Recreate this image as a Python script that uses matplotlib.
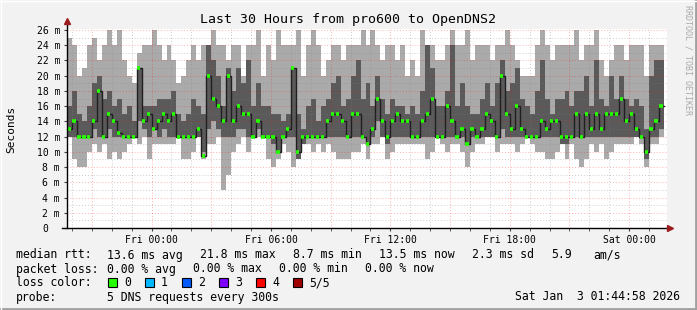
import numpy as np
import matplotlib
matplotlib.use("Agg")
import matplotlib.pyplot as plt
from matplotlib.transforms import ScaledTranslation

# 15-minute bins, Thu 19:45 .. Sat 01:45 (hours relative to Fri 00:00)
hours = np.arange(120) * 0.25 - 4.25

# smoke: outer band (min..max ping) and inner band, median rtt, all in ms
smoke_hi = [25, 24, 20, 21, 24, 25, 22, 24, 26, 24, 26, 22, 20, 19, 23, 24, 24, 26, 24, 22,
            24, 22, 19, 20, 22, 24, 22, 24, 24, 26, 24, 24, 22, 24, 24, 20, 24, 24, 26, 20,
            24, 22, 26, 24, 24, 24, 26, 20, 24, 26, 24, 20, 22, 24, 24, 22, 24, 24, 24, 26,
            24, 26, 24, 22, 24, 24, 22, 24, 20, 22, 20, 26, 24, 24, 22, 22, 24, 26, 24, 24,
            26, 22, 24, 24, 24, 22, 24, 24, 26, 24, 22, 20, 20, 20, 24, 26, 24, 22, 24, 24,
            24, 24, 26, 22, 24, 24, 26, 22, 20, 22, 24, 24, 22, 24, 24, 24, 20, 24, 24, 24]
smoke_lo = [12, 9, 8, 8, 10, 11, 10, 11, 9, 10, 9, 10, 11, 12, 11, 12, 9, 11, 11, 11,
            11, 11, 12, 9, 9, 10, 12, 9, 11, 11, 12, 5, 7, 10, 11, 12, 10, 12, 12, 12,
            9, 8, 9, 11, 10, 8, 9, 11, 11, 10, 11, 10, 11, 10, 9, 9, 9, 10, 10, 11,
            9, 11, 11, 12, 9, 10, 11, 11, 11, 11, 11, 11, 9, 10, 12, 11, 10, 11, 11, 10,
            8, 10, 11, 11, 12, 12, 10, 11, 11, 11, 10, 11, 12, 11, 10, 10, 9, 9, 10, 11,
            9, 11, 9, 8, 9, 11, 10, 11, 9, 10, 11, 11, 11, 11, 12, 11, 8, 11, 11, 12]
inner_hi = [16, 18, 15, 14, 16, 19, 20, 17, 18, 16, 17, 15, 16, 14, 21, 16, 16, 16, 17, 17,
            17, 18, 15, 14, 15, 17, 16, 15, 24, 22, 20, 16, 21, 18, 21, 19, 22, 16, 19, 16,
            16, 15, 15, 14, 15, 21, 15, 13, 16, 17, 14, 16, 17, 19, 20, 16, 17, 20, 22, 17,
            19, 16, 20, 17, 15, 17, 16, 16, 15, 16, 15, 18, 24, 21, 16, 16, 18, 24, 16, 19,
            16, 15, 15, 17, 19, 16, 19, 22, 18, 19, 21, 17, 16, 15, 18, 22, 17, 15, 17, 17,
            18, 16, 18, 18, 20, 16, 22, 17, 16, 20, 17, 20, 17, 16, 17, 16, 13, 20, 22, 22]
inner_lo = [12, 12, 12, 12, 12, 13, 12, 12, 13, 12, 12, 12, 12, 12, 14, 13, 12, 13, 12, 13,
            12, 12, 12, 12, 12, 12, 12, 10, 13, 14, 13, 12, 12, 12, 13, 13, 12, 12, 13, 12,
            12, 11, 10, 12, 12, 12, 9, 11, 12, 12, 12, 12, 12, 12, 12, 12, 12, 12, 12, 12,
            11, 12, 14, 12, 11, 12, 12, 12, 12, 12, 12, 12, 12, 12, 12, 12, 12, 12, 12, 12,
            11, 12, 12, 12, 12, 12, 12, 13, 12, 12, 12, 12, 12, 12, 12, 12, 12, 12, 12, 11,
            11, 12, 12, 12, 12, 12, 12, 12, 12, 12, 12, 12, 12, 12, 12, 12, 9, 12, 12, 13]
median = [13, 14, 12, 12, 12, 14, 18, 12, 15, 14, 12.5, 12, 12, 12, 21, 14, 15, 13, 14, 15,
          14, 15, 12, 12, 12, 12, 13, 9.5, 20, 17, 16, 14, 20, 14, 16, 15, 15, 12, 14, 12,
          12, 12, 10, 12, 13, 21, 10, 12, 12, 12, 12, 12, 14, 15, 15, 14, 12, 15, 15, 12,
          11, 13, 17, 14, 12, 14, 15, 14, 14, 12, 12, 14, 15, 17, 12, 12, 16, 14, 12, 13,
          11, 13, 12, 13, 15, 14, 12, 20, 15, 13, 16, 13, 12, 12, 12, 14, 13, 14, 14, 12,
          12, 12, 15, 12, 15, 13, 15, 13, 15, 15, 15, 17, 14, 15, 13, 12, 10, 13, 14, 16]

y_ticks = list(range(0, 27, 2))
y_labels = ["0"] + [f"{v} m" for v in y_ticks[1:]]
x_ticks = [0, 6, 12, 18, 24]
x_labels = ["Fri 00:00", "Fri 06:00", "Fri 12:00", "Fri 18:00", "Sat 00:00"]

loss_names = ["0", "1", "2", "3", "4", "5/5"]
loss_colors = ["#26ff00", "#00b8ff", "#0059ff", "#7e00ff", "#ff0000", "#a10000"]

W, H = 697, 310
mono = "DejaVu Sans Mono"
fig = plt.figure(figsize=(W / 100, H / 100), dpi=100)
fig.patch.set_facecolor("#f2f2f2")

def px(x, y):
    return x / W, 1 - y / H

ax = fig.add_axes([67 / W, (H - 228) / H, 600 / W, 199.5 / H])
ax.set_facecolor("white")
ax.set_xlim(-4.25, 25.9)
ax.set_ylim(0, 26.2)

hi = np.array(smoke_hi, float)
lo = np.array(smoke_lo, float)
ihi = np.array(inner_hi, float)
ilo = np.array(inner_lo, float)
med = np.array(median, float)

ax.bar(hours, hi - lo, bottom=lo, width=0.25, align="edge", color="#aaaaaa",
       lw=0, zorder=1)
ax.bar(hours, ihi - ilo, bottom=ilo, width=0.25, align="edge", color="#5a5a5a",
       lw=0, zorder=2)

# translucent grid over the smoke, like rrdtool
grid_major = (1.0, 0.0, 0.0, 0.3)
grid_minor = (0.5, 0.5, 0.5, 0.4)
for h in np.arange(-4, 26):
    ax.axvline(h, color=grid_major if h % 3 == 0 else grid_minor, lw=0.7,
               ls=(0, (1, 2)), zorder=2.5)
for v in range(1, 27):
    ax.axhline(v, color=grid_major if v % 2 == 0 else grid_minor, lw=0.7,
               ls=(0, (1, 2)), zorder=2.5)

ax.step(np.append(hours, hours[-1] + 0.25), np.append(med, med[-1]),
        where="post", color="#202020", lw=1, zorder=3)
ax.hlines(med, hours + 0.02, hours + 0.18, color=loss_colors[0], lw=2.6, zorder=4)

for s in ax.spines.values():
    s.set_visible(False)

ax.set_yticks(y_ticks)
ax.set_yticklabels(y_labels, fontfamily=mono, fontsize=7)
ax.set_xticks(x_ticks)
ax.set_xticklabels(x_labels, fontfamily=mono, fontsize=7)
ax.set_xticks(np.arange(-4, 26), minor=True)
ax.tick_params(axis="y", length=2, pad=3, color="#404040")
ax.tick_params(axis="x", which="both", length=2, pad=3, color="#404040")
lbl0 = ax.get_yticklabels()[0]
lbl0.set_transform(lbl0.get_transform() + ScaledTranslation(-0.12, 0, fig.dpi_scale_trans))

# axes with arrow heads
fig.add_artist(plt.Line2D([62 / W, 668 / W], [px(0, 228)[1]] * 2, color="black", lw=1))
fig.add_artist(plt.Line2D([67 / W] * 2, [px(0, 228)[1], px(0, 23)[1]], color="black", lw=1))
fig.add_artist(plt.Line2D([670 / W], [px(0, 228)[1]], marker=">", ms=5,
                          color="#9b1c1c", lw=0))
fig.add_artist(plt.Line2D([67 / W], [px(0, 21)[1]], marker="^", ms=5,
                          color="#9b1c1c", lw=0))

# texts
fig.text(W / 2 / W, px(0, 23.5)[1], "Last 30 Hours from pro600 to OpenDNS2",
         fontfamily=mono, fontsize=9.5, ha="center", va="baseline")
fig.text(*px(11, 129), "Seconds", fontfamily=mono, fontsize=8, rotation=90,
         ha="center", va="center")
fig.text(*px(688, 60), "RRDTOOL / TOBI OETIKER", fontfamily=mono, fontsize=6,
         rotation=270, ha="center", va="center", color="#aaaaaa")

rows = [
    (258.5, [(16, "median rtt:"), (107, "13.6 ms avg"), (200, "21.8 ms max"),
             (293, "8.7 ms min"), (379, "13.5 ms now"), (472, "2.3 ms sd"),
             (551, "5.9"), (593, "am/s")]),
    (272.5, [(16, "packet loss:"), (107, "0.00 % avg"), (193, "0.00 % max"),
             (279, "0.00 % min"), (365, "0.00 % now")]),
    (286.5, [(16, "loss color:")]),
    (300.5, [(16, "probe:"), (107, "5 DNS requests every 300s")]),
]
for yb, items in rows:
    for x, s in items:
        fig.text(*px(x, yb), s, fontfamily=mono, fontsize=8.3, va="baseline")
fig.text(*px(680, 300.5), "Sat Jan  3 01:44:58 2026", fontfamily=mono,
         fontsize=8.3, va="baseline", ha="right")

box_x = [108, 145, 182, 219, 256, 293]
for bx, name, col in zip(box_x, loss_names, loss_colors):
    fig.add_artist(plt.Rectangle(px(bx, 286.5), 9 / W, 9 / H, facecolor=col,
                                 edgecolor="black", lw=0.8))
    fig.text(*px(bx + 16, 286.5), name, fontfamily=mono, fontsize=8.3, va="baseline")

# frame
fig.add_artist(plt.Line2D([0, 1], [1 / H, 1 / H], color="#a0a0a0", lw=2))
fig.add_artist(plt.Line2D([1 - 1 / W] * 2, [0, 1], color="#a0a0a0", lw=2))
fig.add_artist(plt.Line2D([0, 1], [1 - 0.5 / H] * 2, color="white", lw=1))
fig.add_artist(plt.Line2D([0.5 / W] * 2, [0, 1], color="white", lw=1))

fig.savefig("out.png", dpi=100, facecolor=fig.get_facecolor())
